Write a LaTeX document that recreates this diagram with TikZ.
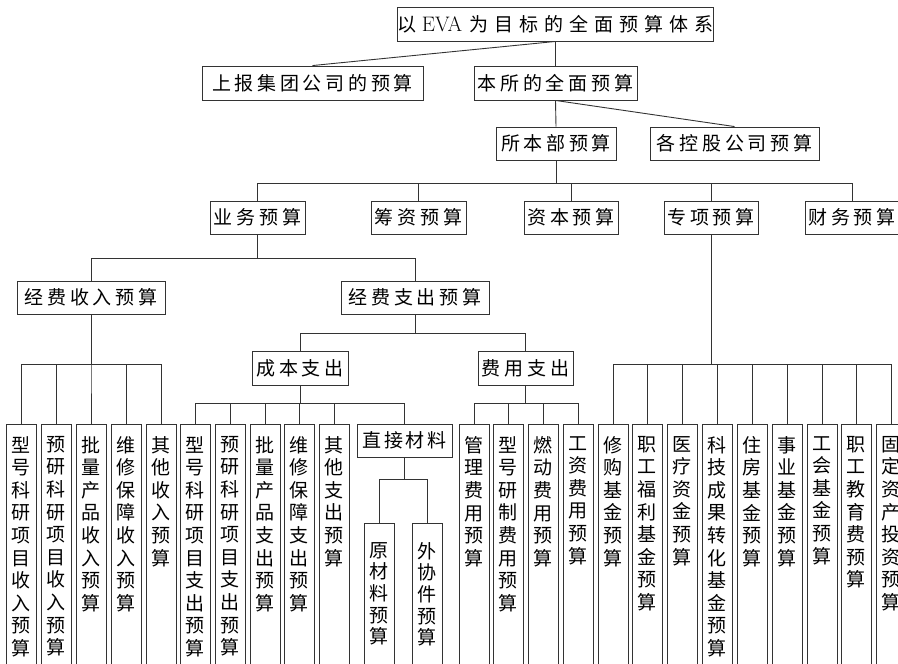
\documentclass[tikz,border=0pt]{standalone}
\usepackage{fontspec}
\newfontfamily\cjk{Noto Sans CJK SC}
\makeatletter
\newcommand\spaced[2][3.7pt]{\def\spk{\kern#1}\spA#2\relax}
\def\spA#1{#1\spB}
\def\spB#1{\ifx\relax#1\else\spk#1\expandafter\spB\fi}
\newcommand\vtext[2][22.6pt]{\vbox{\baselineskip=#1\relax\lineskiplimit=-100pt\vA#2\relax}}
\def\vA#1{\hbox to 19pt{\hss#1\hss}\vB}
\def\vB#1{\ifx\relax#1\else\hbox to 19pt{\hss#1\hss}\expandafter\vB\fi}
\makeatother
\colorlet{lc}{black!80}
\begin{document}
\begin{tikzpicture}[x=1pt,y=-1pt,
  hb/.style={draw=lc, line width=0.9pt, inner sep=0pt, minimum height=34pt, font={\cjk\fontsize{19pt}{22pt}\selectfont}, text=black},
  vb/.style={draw=lc, line width=0.9pt, inner sep=0pt, minimum width=30pt, minimum height=260pt, anchor=north},
  vt/.style={inner sep=0pt, anchor=north, font={\cjk\fontsize{19pt}{22pt}\selectfont}, text=black},
  ln/.style={draw=lc, line width=0.9pt}]
\clip (0,0) rectangle (898,664);
\fill[white] (0,0) rectangle (898,664);
% horizontal boxes
\node[hb, minimum width=315pt] (top) at (555.5,24) {以\kern5pt{\rmfamily\fontsize{21pt}{22pt}\selectfont EVA}\kern7pt\spaced[6pt]{为目标的全面预算体系}};
\node[hb, minimum width=221pt] (sb) at (312.5,83) {\spaced{上报集团公司的预算}};
\node[hb, minimum width=163pt] (bs) at (555.5,83) {\spaced{本所的全面预算}};
\node[hb, minimum width=120pt, minimum height=33pt] (sbb) at (556,143.5) {\spaced{所本部预算}};
\node[hb, minimum width=169pt, minimum height=33pt] (kg) at (734.5,143.5) {\spaced{各控股公司预算}};
\node[hb, minimum width=95pt, minimum height=33pt] (yw) at (257.5,217.5) {\spaced{业务预算}};
\node[hb, minimum width=95pt, minimum height=33pt] (cz) at (418.5,217.5) {\spaced{筹资预算}};
\node[hb, minimum width=94pt, minimum height=33pt] (zb) at (571,217.5) {\spaced{资本预算}};
\node[hb, minimum width=94pt, minimum height=33pt] (zx) at (711,217.5) {\spaced{专项预算}};
\node[hb, minimum width=94pt, minimum height=33pt] (cw) at (852,217.5) {\spaced{财务预算}};
\node[hb, minimum width=148pt, minimum height=33pt] (jfsr) at (91,297.5) {\spaced{经费收入预算}};
\node[hb, minimum width=148pt, minimum height=33pt] (jfzc) at (415,297.5) {\spaced{经费支出预算}};
\node[hb, minimum width=96pt] (cbzc) at (300,368) {\spaced{成本支出}};
\node[hb, minimum width=95pt] (fyzc) at (525.5,368) {\spaced{费用支出}};
\node[hb, minimum width=95pt, minimum height=33pt] (zjcl) at (404.5,440.5) {\spaced[2.5pt]{直接材料}};
% vertical boxes
\foreach \n/\x/\tx in {
  i1/21.5/型号科研项目收入预算, i2/56/预研科研项目收入预算, i3/91/批量产品收入预算,
  i4/126/维修保障收入预算, i5/161/其他收入预算,
  c1/195/型号科研项目支出预算, c2/230/预研科研项目支出预算, c3/265/批量产品支出预算,
  c4/299/维修保障支出预算, c5/334/其他支出预算,
  f1/474/管理费用预算, f2/508/型号研制费用预算, f3/543/燃动费用预算, f4/578/工资费用预算,
  s1/613/修购基金预算, s2/647/职工福利基金预算, s3/682/医疗资金预算,
  s4/717/科技成果转化基金预算, s5/752/住房基金预算, s6/787/事业基金预算,
  s7/822/工会基金预算, s8/856/职工教育费预算, s9/891/固定资产投资预算}{
  \node[vb] (\n) at (\x,424) {};
  \node[vt] (\n t) at (\x,436) {\expandafter\vtext\expandafter{\tx}};
}
\node[vb] (m1) at (379,523) {};
\node[vt] (m1t) at (379,542) {\vtext[21.7pt]{原材料预算}};
\node[vb] (m2) at (427,523) {};
\node[vt] (m2t) at (427,542) {\vtext[21.7pt]{外协件预算}};
% bus levels
\coordinate (b1) at (0,183);
\coordinate (b2) at (0,258);
\coordinate (b3) at (0,364);
\coordinate (b4) at (0,333);
\coordinate (b5) at (0,403);
\coordinate (b6) at (0,479);
% connectors
\draw[ln] (top.south) -- (sb.north);
\draw[ln] (top.south) -- (bs.north);
\draw[ln] (bs.south) -- (sbb.north);
\draw[ln] (bs.south) -- (kg.north);
\foreach \c in {yw,cz,zb,zx,cw} \draw[ln] (sbb.south) -- (sbb.south |- b1) -| (\c.north);
\foreach \c in {jfsr,jfzc} \draw[ln] (yw.south) -- (yw.south |- b2) -| (\c.north);
\foreach \c in {i1,i2,i3,i4,i5} \draw[ln] (jfsr.south) -- (jfsr.south |- b3) -| (\c.north);
\foreach \c in {cbzc,fyzc} \draw[ln] (jfzc.south) -- (jfzc.south |- b4) -| (\c.north);
\foreach \c in {c1,c2,c3,c4,c5,zjcl} \draw[ln] (cbzc.south) -- (cbzc.south |- b5) -| (\c.north);
\foreach \c in {m1,m2} \draw[ln] (zjcl.south) -- (zjcl.south |- b6) -| (\c.north);
\foreach \c in {f1,f2,f3,f4} \draw[ln] (fyzc.south) -- (fyzc.south |- b5) -| (\c.north);
\foreach \c in {s1,s2,s3,s4,s5,s6,s7,s8,s9} \draw[ln] (zx.south) -- (zx.south |- b3) -| (\c.north);
\end{tikzpicture}
\end{document}
